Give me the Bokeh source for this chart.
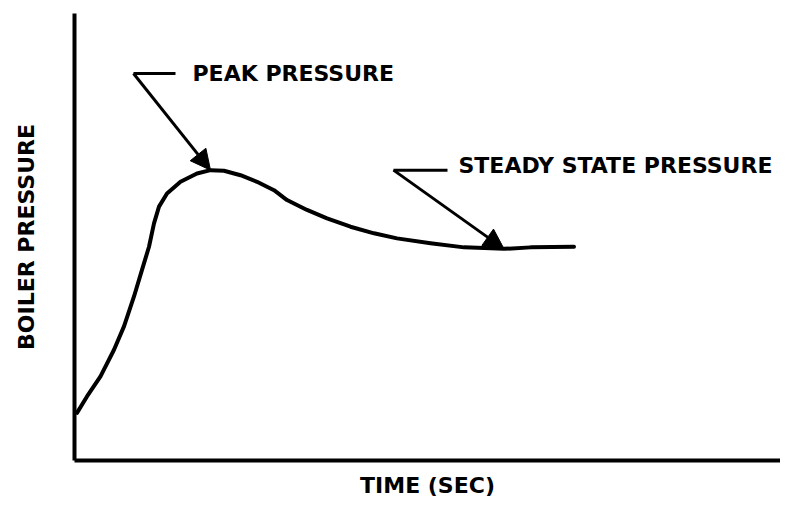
from bokeh.plotting import figure
from bokeh.models import Arrow, NormalHead, FixedTicker, Range1d
from bokeh.core.properties import value
from bokeh.embed import file_html
from bokeh.resources import INLINE

# Boiler pressure response (arbitrary units)
time_s = [0.05, 0.25, 0.52, 0.79, 0.99, 1.19, 1.35, 1.49, 1.59, 1.69, 1.85,
          2.12, 2.45, 2.72, 2.99, 3.32, 3.65, 3.99, 4.25, 4.65, 5.05, 5.52,
          5.99, 6.45, 7.12, 7.79, 8.59, 9.12, 9.99]
pressure = [15.9, 21.4, 28.1, 37.0, 44.8, 54.8, 63.7, 71.4, 79.2, 84.8, 89.2,
            93.1, 95.9, 97.0, 96.8, 95.3, 93.1, 90.3, 87.0, 83.7, 80.9, 78.1,
            75.9, 74.2, 72.6, 71.2, 70.7, 71.2, 71.4]

labels = ["PEAK PRESSURE", "STEADY STATE PRESSURE"]
x_label = "TIME (SEC)"
y_label = "BOILER PRESSURE"

# annotation anchors (data units)
peak_corner = (1.18, 129.3)
peak_leader_end = 2.02
peak_text = (2.36, 129.3)
steady_corner = (6.38, 97.0)
steady_leader_end = 7.46
steady_text = (7.68, 98.7)
steady_idx = 26

FONT = "DejaVu Sans"

p = figure(width=780, height=500, output_backend="svg", toolbar_location=None,
           x_range=Range1d(0, 14.12), y_range=Range1d(0, 149.33),
           min_border_left=74, min_border_right=0, min_border_top=13,
           min_border_bottom=39)
p.outline_line_color = None
p.xgrid.visible = False
p.ygrid.visible = False
p.background_fill_color = "white"
p.border_fill_color = "white"

for ax in (p.xaxis[0], p.yaxis[0]):
    ax.ticker = FixedTicker(ticks=[])
    ax.major_tick_line_color = None
    ax.minor_tick_line_color = None
    ax.major_label_text_font_size = "0px"
    ax.axis_line_width = 4
    ax.axis_line_color = "black"
    ax.axis_label_text_font = FONT
    ax.axis_label_text_font_style = "bold"
    ax.axis_label_text_font_size = "22px"
    ax.axis_label_text_color = "black"

p.xaxis.axis_label = x_label
p.yaxis.axis_label = y_label
p.xaxis.axis_label_standoff = 12
p.yaxis.axis_label_standoff = 36

p.line(time_s, pressure, line_width=4, line_color="black", line_join="round", line_cap="round")

# peak annotation
pk = max(range(len(pressure)), key=lambda i: pressure[i])
p.line([peak_corner[0], peak_leader_end], [peak_corner[1], peak_corner[1]],
       line_width=3, line_color="black")
p.add_layout(Arrow(end=NormalHead(size=20, fill_color="black", line_color="black"),
                   x_start=peak_corner[0], y_start=peak_corner[1],
                   x_end=time_s[pk], y_end=pressure[pk],
                   line_width=3, line_color="black"))
p.text(x=[peak_text[0]], y=[peak_text[1]], text=[labels[0]],
       text_font=value(FONT), text_font_style="bold", text_font_size="22px",
       text_baseline="middle", text_align="left", text_color="black")

# steady-state annotation
p.line([steady_corner[0], steady_leader_end], [steady_corner[1], steady_corner[1]],
       line_width=3, line_color="black")
p.add_layout(Arrow(end=NormalHead(size=20, fill_color="black", line_color="black"),
                   x_start=steady_corner[0], y_start=steady_corner[1],
                   x_end=time_s[steady_idx], y_end=pressure[steady_idx],
                   line_width=3, line_color="black"))
p.text(x=[steady_text[0]], y=[steady_text[1]], text=[labels[1]],
       text_font=value(FONT), text_font_style="bold", text_font_size="22px",
       text_baseline="middle", text_align="left", text_color="black")

open("out.html", "w").write(file_html(p, INLINE))
